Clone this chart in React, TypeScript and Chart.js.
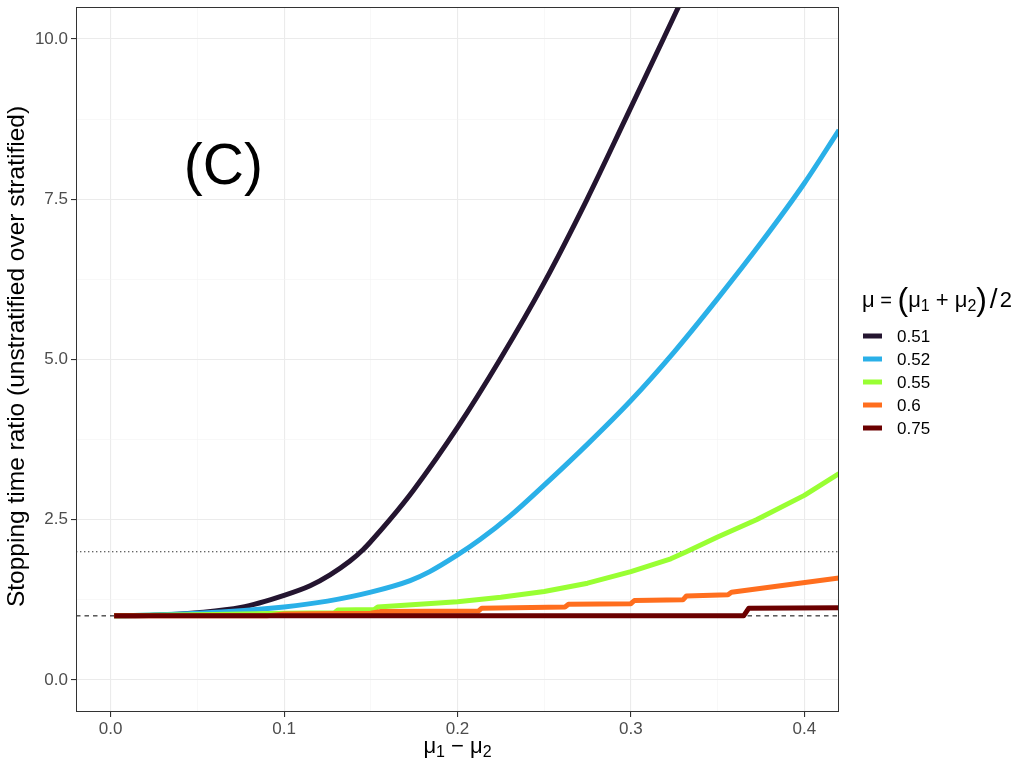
import { useEffect, useRef } from 'react';
import { Chart, registerables, ChartConfiguration, Plugin } from 'chart.js';

Chart.register(...registerables);

const FONT = '"Liberation Sans", Arial, Helvetica, sans-serif';

// series: mu = (mu1 + mu2) / 2
const seriesLabels = ['0.51', '0.52', '0.55', '0.6', '0.75'];
const seriesColors = ['#241530', '#2AB0E8', '#99FF33', '#FF6E1E', '#6B0000'];

const x051 = [0.002, 0.025, 0.05, 0.075, 0.1, 0.115, 0.1265, 0.138, 0.1458, 0.15, 0.161, 0.1746, 0.2, 0.2245, 0.25, 0.2747, 0.2968, 0.3187, 0.33];
const y051 = [1.0, 1.01, 1.05, 1.13, 1.32, 1.47, 1.64, 1.855, 2.04, 2.16, 2.5, 2.96, 3.94, 5.0, 6.2, 7.5, 8.75, 10.0, 10.65];

const x052 = [0.002, 0.05, 0.1, 0.125, 0.15, 0.1727, 0.184, 0.2, 0.213, 0.2304, 0.25, 0.275, 0.3, 0.325, 0.35, 0.375, 0.4, 0.42];
const y052 = [1.0, 1.04, 1.14, 1.23, 1.37, 1.55, 1.69, 1.95, 2.19, 2.56, 3.04, 3.68, 4.36, 5.12, 5.95, 6.82, 7.75, 8.58];

const x055 = [0.002, 0.06, 0.1, 0.129, 0.131, 0.152, 0.154, 0.2, 0.225, 0.25, 0.275, 0.3, 0.323, 0.332, 0.35, 0.3724, 0.4, 0.42];
const y055 = [1.0, 1.02, 1.04, 1.05, 1.09, 1.1, 1.14, 1.22, 1.29, 1.38, 1.51, 1.69, 1.89, 2.0, 2.23, 2.5, 2.88, 3.22];

const x060 = [0.002, 0.09, 0.1, 0.15, 0.156, 0.212, 0.214, 0.262, 0.264, 0.3, 0.302, 0.33, 0.332, 0.356, 0.358, 0.42];
const y060 = [1.0, 1.0, 1.03, 1.04, 1.07, 1.075, 1.12, 1.14, 1.18, 1.19, 1.24, 1.25, 1.31, 1.33, 1.37, 1.59];

const x075 = [0.002, 0.365, 0.368, 0.42];
const y075 = [1.0, 1.0, 1.12, 1.125];

const seriesX = [x051, x052, x055, x060, x075];
const seriesY = [y051, y052, y055, y060, y075];
const smoothSeries = [true, true, false, false, false];

// reference lines: y = 1 (dashed), y = 2 (dotted)
const hlineValues = [1, 2];

const xLimits = [-0.02, 0.42];
const yLimits = [-0.5, 10.5];
const xMajor = [0, 0.1, 0.2, 0.3, 0.4];
const xMinor = [0.05, 0.15, 0.25, 0.35];
const xTickLabels = ['0.0', '0.1', '0.2', '0.3', '0.4'];
const yMajor = [0, 2.5, 5, 7.5, 10];
const yMinor = [1.25, 3.75, 6.25, 8.75];
const yTickLabels = ['0.0', '2.5', '5.0', '7.5', '10.0'];

const panelLabel = '(C)';
const panelLabelAt = { x: 0.065, y: 7.98 };
const yTitle = 'Stopping time ratio (unstratified over stratified)';

type Seg = { t: string; size: number; dy?: number };

function drawRich(ctx: CanvasRenderingContext2D, segs: Seg[], x: number, y: number, align: 'left' | 'center') {
  let total = 0;
  for (const s of segs) {
    ctx.font = `${s.size}px ${FONT}`;
    total += ctx.measureText(s.t).width;
  }
  let cx = align === 'center' ? x - total / 2 : x;
  ctx.textAlign = 'left';
  ctx.textBaseline = 'alphabetic';
  for (const s of segs) {
    ctx.font = `${s.size}px ${FONT}`;
    ctx.fillText(s.t, cx, y + (s.dy ?? 0));
    cx += ctx.measureText(s.t).width;
  }
}

const isIn = (arr: number[], v: number) => arr.findIndex((m) => Math.abs(m - v) < 1e-9);

const decorations: Plugin = {
  id: 'decorations',
  afterDraw(chart) {
    const { ctx, chartArea: a, scales } = chart;
    ctx.save();
    // panel border
    ctx.strokeStyle = '#333333';
    ctx.lineWidth = 1;
    ctx.strokeRect(a.left + 0.5, a.top + 0.5, a.right - a.left - 1, a.bottom - a.top - 1);

    // panel label
    ctx.fillStyle = '#000';
    ctx.font = `57px ${FONT}`;
    ctx.textAlign = 'center';
    ctx.textBaseline = 'middle';
    ctx.fillText(panelLabel, scales.x.getPixelForValue(panelLabelAt.x), scales.y.getPixelForValue(panelLabelAt.y));

    // y title
    ctx.save();
    ctx.translate(17, (a.top + a.bottom) / 2 - 3);
    ctx.rotate(-Math.PI / 2);
    ctx.font = `24.5px ${FONT}`;
    ctx.fillText(yTitle, 0, 0);
    ctx.restore();

    // x title
    drawRich(
      ctx,
      [
        { t: 'μ', size: 22 },
        { t: '1', size: 16, dy: 4 },
        { t: ' − ', size: 22 },
        { t: 'μ', size: 22 },
        { t: '2', size: 16, dy: 4 },
      ],
      (a.left + a.right) / 2,
      753,
      'center'
    );

    // legend
    drawRich(
      ctx,
      [
        { t: 'μ', size: 22 },
        { t: ' = ', size: 20 },
        { t: '(', size: 32, dy: 3 },
        { t: 'μ', size: 22 },
        { t: '1', size: 16, dy: 4 },
        { t: ' + ', size: 22 },
        { t: 'μ', size: 22 },
        { t: '2', size: 16, dy: 4 },
        { t: ')', size: 32, dy: 3 },
        { t: ' ', size: 10 },
        { t: '/', size: 28, dy: 1 },
        { t: ' ', size: 8 },
        { t: '2', size: 22 },
      ],
      862,
      307,
      'left'
    );
    seriesLabels.forEach((lab, i) => {
      const y = 336 + i * 23;
      ctx.strokeStyle = seriesColors[i];
      ctx.lineWidth = 5;
      ctx.lineCap = 'butt';
      ctx.beginPath();
      ctx.moveTo(863, y);
      ctx.lineTo(882, y);
      ctx.stroke();
      ctx.fillStyle = '#000';
      ctx.font = `17px ${FONT}`;
      ctx.textAlign = 'left';
      ctx.textBaseline = 'middle';
      ctx.fillText(lab, 897, y + 1);
    });
    ctx.restore();
  },
};

function makeConfig(): ChartConfiguration {
  const lineSets = seriesLabels.map((lab, i) => ({
    label: lab,
    data: seriesX[i].map((x, j) => ({ x, y: seriesY[i][j] })),
    borderColor: seriesColors[i],
    borderWidth: 5,
    borderCapStyle: 'butt' as const,
    borderJoinStyle: 'round' as const,
    pointRadius: 0,
    fill: false,
    tension: 0,
    cubicInterpolationMode: smoothSeries[i] ? ('monotone' as const) : ('default' as const),
    order: seriesLabels.length - i,
  }));
  const refSets = hlineValues.map((v, i) => ({
    label: `ref${v}`,
    data: xLimits.map((x) => ({ x, y: v })),
    borderColor: i === 0 ? '#000000' : '#333333',
    borderWidth: i === 0 ? 1 : 1.2,
    borderDash: i === 0 ? [4.5, 4] : [1.4, 2.6],
    pointRadius: 0,
    fill: false,
    order: 10 + i,
  }));

  return {
    type: 'line',
    data: { datasets: [...lineSets, ...refSets] as any },
    options: {
      responsive: false,
      animation: false,
      layout: { padding: { top: 7, right: 189, left: 0, bottom: 0 } },
      plugins: { legend: { display: false }, tooltip: { enabled: false } },
      scales: {
        x: {
          type: 'linear',
          min: xLimits[0],
          max: xLimits[1],
          afterBuildTicks: (s) => {
            s.ticks = [...xMajor, ...xMinor].sort((p, q) => p - q).map((value) => ({ value }));
          },
          afterFit: (s: any) => {
            s.height = 56;
            s.paddingLeft = 0;
            s.paddingRight = 0;
          },
          ticks: {
            autoSkip: false,
            maxRotation: 0,
            padding: 2,
            color: '#4D4D4D',
            font: { family: FONT, size: 17 },
            callback: (v) => {
              const k = isIn(xMajor, Number(v));
              return k >= 0 ? xTickLabels[k] : '';
            },
          },
          grid: {
            color: (c) => (isIn(xMajor, c.tick?.value) >= 0 ? '#EBEBEB' : '#F3F3F3'),
            lineWidth: (c) => (isIn(xMajor, c.tick?.value) >= 0 ? 1.1 : 0.6),
            tickColor: (c) => (isIn(xMajor, c.tick?.value) >= 0 ? '#333333' : 'rgba(0,0,0,0)'),
            tickLength: 5,
          },
          border: { display: false },
        },
        y: {
          type: 'linear',
          min: yLimits[0],
          max: yLimits[1],
          afterBuildTicks: (s) => {
            s.ticks = [...yMajor, ...yMinor].sort((p, q) => p - q).map((value) => ({ value }));
          },
          afterFit: (s: any) => {
            s.width = 76;
            s.paddingTop = 0;
            s.paddingBottom = 0;
          },
          ticks: {
            autoSkip: false,
            padding: 3,
            color: '#4D4D4D',
            font: { family: FONT, size: 17 },
            callback: (v) => {
              const k = isIn(yMajor, Number(v));
              return k >= 0 ? yTickLabels[k] : '';
            },
          },
          grid: {
            color: (c) => (isIn(yMajor, c.tick?.value) >= 0 ? '#EBEBEB' : '#F3F3F3'),
            lineWidth: (c) => (isIn(yMajor, c.tick?.value) >= 0 ? 1.1 : 0.6),
            tickColor: (c) => (isIn(yMajor, c.tick?.value) >= 0 ? '#333333' : 'rgba(0,0,0,0)'),
            tickLength: 5,
          },
          border: { display: false },
        },
      },
    },
    plugins: [decorations],
  };
}

export default function App() {
  const canvasRef = useRef<HTMLCanvasElement | null>(null);

  useEffect(() => {
    if (!canvasRef.current) return;
    const chart = new Chart(canvasRef.current, makeConfig());
    return () => {
      chart.destroy();
    };
  }, []);

  return (
    <div style={{ position: 'fixed', left: 0, top: 0, width: 1028, height: 768, background: '#fff' }}>
      <canvas ref={canvasRef} width={1028} height={768} style={{ display: 'block' }} />
    </div>
  );
}
